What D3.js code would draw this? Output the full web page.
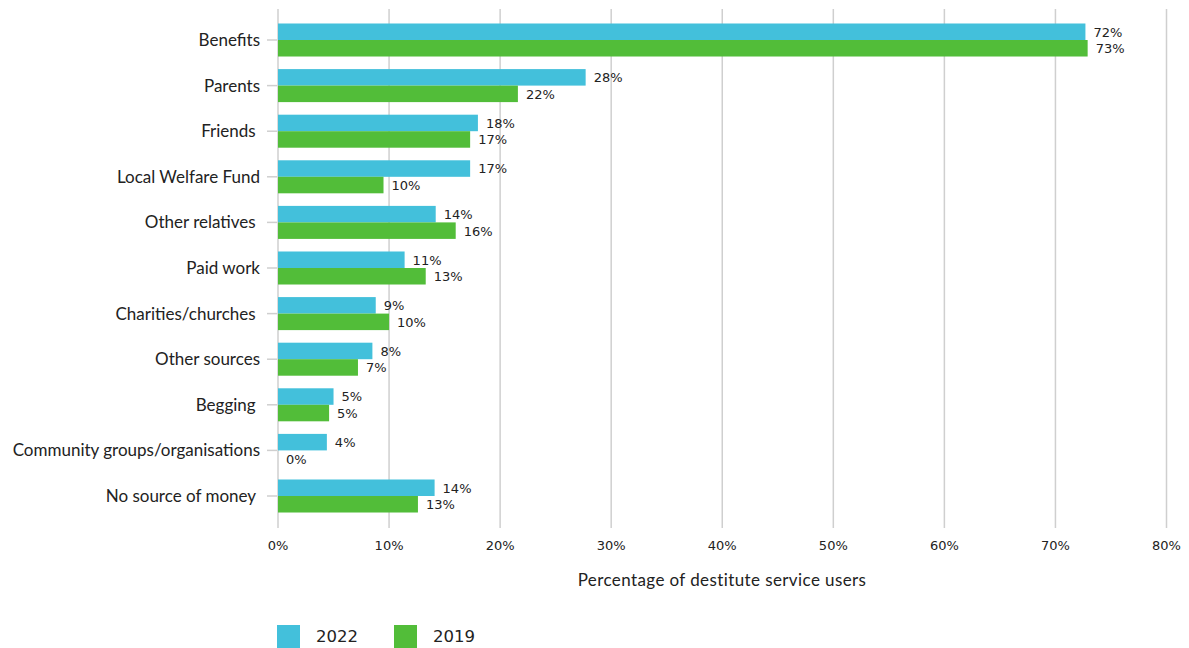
<!DOCTYPE html>
<html><head><meta charset="utf-8">
<script src="https://cdn.jsdelivr.net/npm/d3@7"></script>
<style>body{margin:0;background:#fff}svg{display:block}</style>
</head><body>
<script>
const categories = ["Benefits","Parents","Friends ","Local Welfare Fund","Other relatives ","Paid work","Charities/churches ","Other sources","Begging ","Community groups/organisations","No source of money "];
const values2022 = [72.7,27.7,18.0,17.3,14.2,11.4,8.8,8.5,5.0,4.4,14.1];
const values2019 = [72.9,21.6,17.3,9.5,16.0,13.3,10.0,7.2,4.6,0,12.6];
const labels2022 = ["72%","28%","18%","17%","14%","11%","9%","8%","5%","4%","14%"];
const labels2019 = ["73%","22%","17%","10%","16%","13%","10%","7%","5%","0%","13%"];
const seriesNames = ["2022","2019"];
const seriesColors = ["#43C0DB","#52BD39"];
const xTicks = [0,10,20,30,40,50,60,70,80];

const W=1189,H=648;
const svg=d3.select("body").append("svg").attr("width",W).attr("height",H);
const x=d3.scaleLinear().domain([0,80]).range([278,1166.5]);
const y0=d3.scaleBand().domain(categories).range([17.2,518.8]).paddingInner(0.276).paddingOuter(0.138);
const y1=d3.scaleBand().domain(seriesNames).range([0,y0.bandwidth()]);

// gridlines
svg.append("g").selectAll("line").data(xTicks).join("line")
  .attr("x1",d=>x(d)).attr("x2",d=>x(d)).attr("y1",9).attr("y2",528)
  .attr("stroke","#cfcfcf").attr("stroke-width",1.5);

// y ticks
svg.append("g").selectAll("line").data(categories).join("line")
  .attr("x1",267).attr("x2",277).attr("y1",d=>y0(d)+y0.bandwidth()/2).attr("y2",d=>y0(d)+y0.bandwidth()/2)
  .attr("stroke","#cfcfcf").attr("stroke-width",1.5);

// category labels
svg.append("g").selectAll("text").data(categories).join("text")
  .attr("x",260).attr("y",d=>y0(d)+y0.bandwidth()/2).attr("dy","0.35em")
  .attr("text-anchor","end").style("white-space","pre")
  .attr("font-family","Lato, sans-serif").attr("font-size",17).attr("fill","#222")
  .text(d=>d);

const data=categories.map((c,i)=>({c,vals:[{s:"2022",v:values2022[i],l:labels2022[i]},{s:"2019",v:values2019[i],l:labels2019[i]}]}));
const g=svg.append("g").selectAll("g").data(data).join("g").attr("transform",d=>`translate(0,${y0(d.c)})`);
g.selectAll("rect").data(d=>d.vals).join("rect")
  .attr("x",x(0)).attr("y",d=>y1(d.s)).attr("width",d=>x(d.v)-x(0)).attr("height",y1.bandwidth())
  .attr("fill",(d,i)=>seriesColors[i]);
g.selectAll("text").data(d=>d.vals).join("text")
  .attr("x",d=>x(d.v)+8).attr("y",d=>y1(d.s)+y1.bandwidth()/2).attr("dy","0.38em")
  .attr("font-family","DejaVu Sans, sans-serif").attr("font-size",13).attr("fill","#222")
  .text(d=>d.l);

// x tick labels
svg.append("g").selectAll("text").data(xTicks).join("text")
  .attr("x",d=>x(d)).attr("y",545).attr("dy","0.35em").attr("text-anchor","middle")
  .attr("font-family","DejaVu Sans, sans-serif").attr("font-size",13).attr("fill","#222")
  .text(d=>d+"%");

// axis title
svg.append("text").attr("x",722).attr("y",580).attr("dy","0.35em").attr("text-anchor","middle")
  .attr("font-family","Lato, sans-serif").attr("font-size",17).attr("letter-spacing",0.4).attr("fill","#222")
  .text("Percentage of destitute service users");

// legend
const legX=[277,394];
const lg=svg.append("g").selectAll("g").data(seriesNames).join("g").attr("transform",(d,i)=>`translate(${legX[i]},625)`);
lg.append("rect").attr("width",23).attr("height",23).attr("fill",(d,i)=>seriesColors[i]);
lg.append("text").attr("x",39).attr("y",11.5).attr("dy","0.35em")
  .attr("font-family","DejaVu Sans, sans-serif").attr("font-size",16.5).attr("fill","#222").text(d=>d);
</script>
</body></html>
